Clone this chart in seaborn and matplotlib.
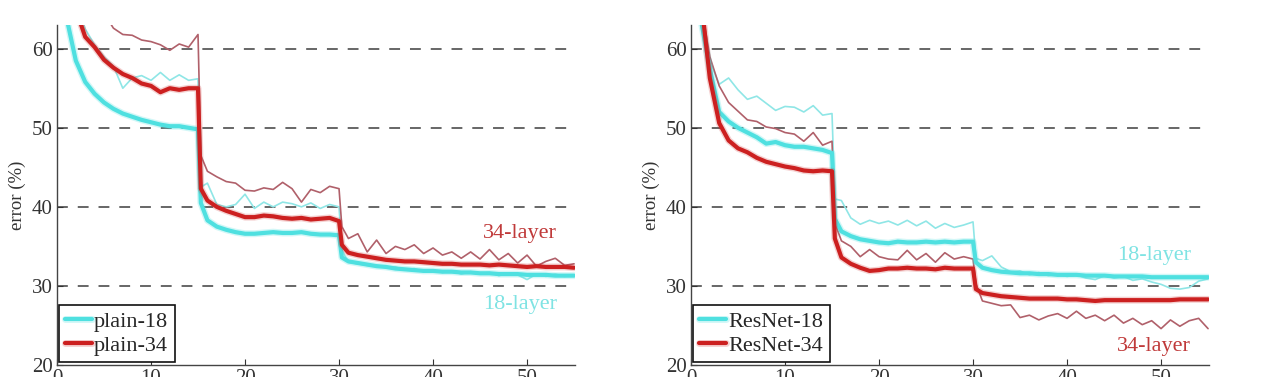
import numpy as np
import pandas as pd
import matplotlib
matplotlib.use("Agg")
import matplotlib.pyplot as plt
import matplotlib.patheffects as pe
import seaborn as sns

# ---------------- data ----------------
epochs = list(range(1, 16)) + [15.3] + list(range(16, 31)) + [30.3] + list(range(31, 56))

plain18_val = [64, 58.5, 55.8, 54.3, 53.2, 52.4, 51.8, 51.4, 51.0, 50.7, 50.4, 50.2, 50.2, 50.0, 49.8,
               40.5,
               38.3, 37.5, 37.1, 36.8, 36.6, 36.6, 36.7, 36.8, 36.7, 36.7, 36.8, 36.6, 36.5, 36.5, 36.4,
               33.6,
               33.1, 32.9, 32.7, 32.5, 32.4, 32.2, 32.1, 32.0, 31.9, 31.9, 31.8, 31.8, 31.7, 31.7, 31.6,
               31.6, 31.5, 31.5, 31.5, 31.4, 31.4, 31.4, 31.3, 31.3, 31.3]
plain34_val = [68, 65, 61.5, 60.2, 58.6, 57.6, 56.8, 56.3, 55.6, 55.3, 54.5, 55.0, 54.8, 55.0, 55.0,
               42.3,
               40.8, 40.0, 39.5, 39.1, 38.7, 38.7, 38.9, 38.8, 38.6, 38.5, 38.6, 38.4, 38.5, 38.6, 38.2,
               35.2,
               34.2, 33.9, 33.7, 33.5, 33.3, 33.2, 33.1, 33.1, 33.0, 32.9, 32.8, 32.8, 32.7, 32.7, 32.7,
               32.6, 32.7, 32.6, 32.5, 32.4, 32.5, 32.4, 32.4, 32.4, 32.3]
plain18_train = [70, 66, 62.5, 60.5, 59.0, 57.8, 55.0, 56.3, 56.6, 56.0, 57.0, 56.0, 56.7, 56.0, 56.2,
                 42.5,
                 43.0, 40.3, 40.0, 40.3, 41.6, 39.8, 40.6, 40.0, 40.6, 40.4, 40.0, 40.5, 39.8, 40.3, 40.0,
                 34.5,
                 33.0, 32.8, 32.6, 32.6, 32.3, 32.4, 32.0, 32.2, 31.8, 32.0, 31.7, 31.9, 31.5, 31.8, 31.6,
                 31.7, 31.3, 31.6, 31.4, 30.8, 31.5, 31.2, 31.5, 31.2, 31.4]
plain34_train = [70, 68, 66, 65, 64.5, 62.6, 61.8, 61.7, 61.1, 60.9, 60.5, 59.8, 60.6, 60.2, 61.8,
                 46.5,
                 44.5, 43.8, 43.2, 43.0, 42.1, 42.0, 42.4, 42.2, 43.1, 42.3, 40.6, 42.2, 41.8, 42.6, 42.3,
                 37.5,
                 36.0, 36.6, 34.3, 35.8, 34.1, 35.0, 34.6, 35.2, 34.1, 34.8, 33.9, 34.3, 33.5, 34.3, 33.4,
                 34.6, 33.3, 34.1, 32.9, 33.9, 32.5, 33.1, 33.5, 32.6, 32.8]

resnet18_val = [64, 57.5, 52.0, 50.8, 50.0, 49.4, 48.8, 48.0, 48.2, 47.8, 47.6, 47.6, 47.4, 47.2, 46.8,
                38.5,
                36.9, 36.3, 35.9, 35.7, 35.5, 35.4, 35.6, 35.5, 35.5, 35.6, 35.5, 35.6, 35.5, 35.6, 35.6,
                33.0,
                32.3, 32.0, 31.8, 31.7, 31.6, 31.6, 31.5, 31.5, 31.4, 31.4, 31.4, 31.3, 31.3, 31.3, 31.2,
                31.2, 31.2, 31.2, 31.1, 31.1, 31.1, 31.1, 31.1, 31.1, 31.1]
resnet34_val = [67, 56.3, 50.6, 48.4, 47.4, 46.9, 46.2, 45.7, 45.4, 45.1, 44.9, 44.6, 44.5, 44.6, 44.5,
                36.0,
                33.6, 32.8, 32.3, 31.9, 32.0, 32.2, 32.2, 32.3, 32.2, 32.2, 32.1, 32.3, 32.2, 32.2, 32.2,
                29.6,
                29.1, 28.9, 28.7, 28.6, 28.5, 28.4, 28.4, 28.4, 28.4, 28.3, 28.3, 28.2, 28.1, 28.2, 28.2,
                28.2, 28.2, 28.2, 28.2, 28.2, 28.2, 28.3, 28.3, 28.3, 28.3]
resnet18_train = [65, 58.5, 55.5, 56.3, 54.8, 53.6, 54.0, 53.1, 52.2, 52.7, 52.6, 52.0, 52.8, 51.6, 51.8,
                  41.0,
                  40.8, 38.6, 37.8, 38.3, 37.9, 38.2, 37.7, 38.3, 37.6, 38.2, 37.3, 37.9, 37.4, 37.7, 38.1,
                  33.5,
                  33.2, 33.8, 32.4, 31.8, 31.9, 31.4, 31.7, 31.3, 31.5, 31.2, 31.4, 31.0, 30.8, 31.3, 31.0,
                  31.2, 30.7, 30.9, 30.5, 30.2, 29.7, 29.6, 29.8, 30.6, 30.9]
resnet34_train = [66, 59.0, 55.3, 53.2, 52.1, 51.0, 50.8, 50.1, 49.9, 49.4, 49.2, 48.3, 49.4, 47.8, 48.3,
                  38.0,
                  35.7, 35.0, 33.7, 34.6, 33.7, 33.4, 33.3, 34.5, 33.3, 34.1, 33.0, 34.2, 33.4, 33.7, 33.4,
                  30.3,
                  28.1, 27.8, 27.5, 27.6, 26.0, 26.3, 25.7, 26.2, 26.5, 25.9, 26.8, 25.9, 26.3, 25.6, 26.3,
                  25.3, 25.9, 25.1, 25.6, 24.6, 25.7, 24.9, 25.6, 25.9, 24.6]

left_labels = ["plain-18", "plain-34"]
right_labels = ["ResNet-18", "ResNet-34"]
yticks = [20, 30, 40, 50, 60]
xticks = [0, 10, 20, 30, 40, 50]

# ---------------- style ----------------
sns.set_style("white")
plt.rcParams['font.family'] = ['Liberation Serif', 'DejaVu Serif']

CYAN = "#4fe0e0"
RED = "#cc2020"
CYAN_THIN = "#8fe6e6"
RED_THIN = "#b0606a"
TXT_RED = "#c03a3a"
TXT_CYAN = "#7fe3e3"

fig = plt.figure(figsize=(12.8, 3.77), dpi=100)
ax1 = fig.add_axes([57 / 1280, 12 / 377, 518 / 1280, 340 / 377])
ax2 = fig.add_axes([691 / 1280, 12 / 377, 518 / 1280, 340 / 377])


def draw(ax, v18, v34, t18, t34, labels, ann):
    sns.lineplot(x=epochs, y=t18, ax=ax, color=CYAN_THIN, lw=1.2, sort=False)
    sns.lineplot(x=epochs, y=t34, ax=ax, color=RED_THIN, lw=1.2, sort=False)
    sns.lineplot(x=epochs, y=v18, ax=ax, color=CYAN, lw=3.0, sort=False)
    h18 = ax.lines[-1]
    h18.set_path_effects([pe.Stroke(linewidth=5, foreground=CYAN, alpha=0.25), pe.Normal()])
    sns.lineplot(x=epochs, y=v34, ax=ax, color=RED, lw=3.0, sort=False)
    h34 = ax.lines[-1]
    h34.set_path_effects([pe.Stroke(linewidth=5, foreground=RED, alpha=0.2), pe.Normal()])

    ax.set_xlim(0, 55.1)
    ax.set_ylim(20, 63)
    ax.set_yticks(yticks)
    ax.set_xticks(xticks)
    for y in [30, 40, 50, 60]:
        ax.axhline(y, color="#5a5a5a", lw=1.3, linestyle=(0, (6, 5.5)), zorder=0)
    for s in ["top", "right"]:
        ax.spines[s].set_visible(False)
    for s in ["left", "bottom"]:
        ax.spines[s].set_color("#444444")
        ax.spines[s].set_linewidth(1.0)
    ax.tick_params(direction="in", length=4, labelsize=15, colors="#333333",
                   left=True, bottom=True, pad=3)
    ax.set_ylabel("error (%)", fontsize=13.5, color="#333333", labelpad=4)
    ax.set_xlabel("")

    leg = ax.legend([h18, h34], labels, loc="lower left", bbox_to_anchor=(0.003, 0.008),
                    borderaxespad=0, fancybox=False, fontsize=16, handlelength=1.2,
                    handletextpad=0.1, borderpad=0.3, labelspacing=0.15, framealpha=1)
    leg.get_frame().set_edgecolor("#111111")
    leg.get_frame().set_linewidth(1.2)
    for txt, xx, yy, col in ann:
        ax.text(xx, yy, txt, color=col, fontsize=16, ha="left", va="center")


draw(ax1, plain18_val, plain34_val, plain18_train, plain34_train, left_labels,
     [("34-layer", 45.3, 36.6, TXT_RED), ("18-layer", 45.3, 27.6, TXT_CYAN)])
draw(ax2, resnet18_val, resnet34_val, resnet18_train, resnet34_train, right_labels,
     [("18-layer", 45.3, 33.9, TXT_CYAN), ("34-layer", 45.3, 22.3, TXT_RED)])

fig.savefig("out.png", dpi=100)
